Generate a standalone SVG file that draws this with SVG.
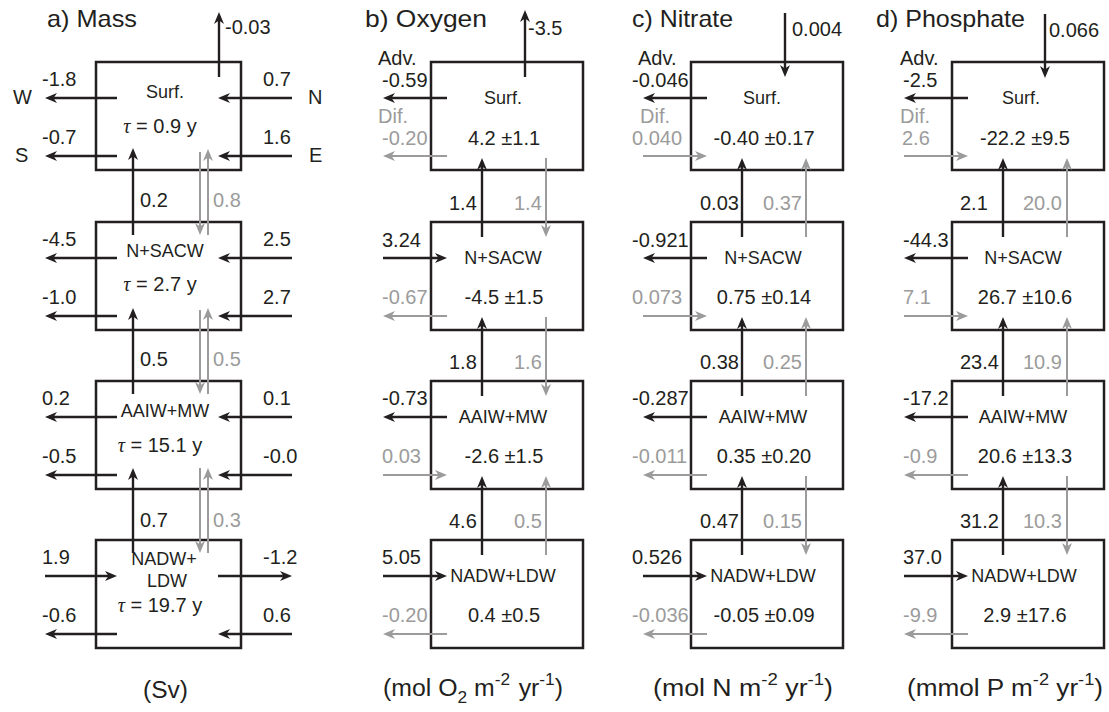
<svg xmlns="http://www.w3.org/2000/svg" width="1109" height="712" viewBox="0 0 1109 712">
<defs>
<style>
text{font-family:"Liberation Sans",Arial,sans-serif;fill:#231f20;font-size:20px}
.g{fill:#9b9b9b}
.t{font-size:24px}
.lb{font-size:18px;text-anchor:middle}
.v{font-size:20px;text-anchor:middle}
.u{font-size:23px}
.box{fill:none;stroke:#231f20;stroke-width:2.5}
.bl{stroke:#231f20;stroke-width:2.4;fill:none;marker-end:url(#ak)}
.gl{stroke:#9b9b9b;stroke-width:2;fill:none;marker-end:url(#ag)}
.tau{font-family:"Liberation Serif",serif;font-style:italic}
</style>
<marker id="ak" markerUnits="userSpaceOnUse" markerWidth="14" markerHeight="12" refX="5" refY="5" orient="auto"><path d="M0,0 L12,5 L0,10 L3.5,5 z" fill="#231f20"/></marker>
<marker id="ag" markerUnits="userSpaceOnUse" markerWidth="14" markerHeight="12" refX="5" refY="5" orient="auto"><path d="M0,0 L12,5 L0,10 L3.5,5 z" fill="#9b9b9b"/></marker>
</defs>
<rect width="1109" height="712" fill="#fff"/>

<!-- titles -->
<g id="titles">
<text class="t" x="47" y="27" textLength="90" lengthAdjust="spacingAndGlyphs">a) Mass</text>
<text class="t" x="365" y="27" textLength="122" lengthAdjust="spacingAndGlyphs">b) Oxygen</text>
<text class="t" x="632" y="27" textLength="101" lengthAdjust="spacingAndGlyphs">c) Nitrate</text>
<text class="t" x="876" y="27" textLength="149" lengthAdjust="spacingAndGlyphs">d) Phosphate</text>
</g>

<!-- Panel a nodes -->
<g id="a-surf"><rect class="box" x="96" y="62" width="145" height="108"/>
<text class="lb" x="165" y="98">Surf.</text>
<text class="v" x="160" y="133"><tspan class="tau">τ</tspan> = 0.9 y</text></g>
<g id="a-nsacw"><rect class="box" x="96" y="222" width="145" height="108"/>
<text class="lb" x="165" y="257">N+SACW</text>
<text class="v" x="160" y="291"><tspan class="tau">τ</tspan> = 2.7 y</text></g>
<g id="a-aaiw"><rect class="box" x="96" y="381" width="145" height="108"/>
<text class="lb" x="165" y="417">AAIW+MW</text>
<text class="v" x="160" y="452"><tspan class="tau">τ</tspan> = 15.1 y</text></g>
<g id="a-nadw"><rect class="box" x="96" y="540" width="145" height="108"/>
<text class="lb" x="164" y="565">NADW+</text>
<text class="lb" x="167" y="587">LDW</text>
<text class="v" x="160" y="612"><tspan class="tau">τ</tspan> = 19.7 y</text></g>

<!-- Panel b nodes -->
<g id="b-surf"><rect class="box" x="431" y="62" width="152" height="108"/>
<text class="lb" x="503" y="104">Surf.</text>
<text class="v" x="504" y="145">4.2 ±1.1</text></g>
<g id="b-nsacw"><rect class="box" x="431" y="222" width="152" height="108"/>
<text class="lb" x="503" y="264">N+SACW</text>
<text class="v" x="504" y="304">-4.5 ±1.5</text></g>
<g id="b-aaiw"><rect class="box" x="431" y="381" width="152" height="108"/>
<text class="lb" x="503" y="423">AAIW+MW</text>
<text class="v" x="504" y="463">-2.6 ±1.5</text></g>
<g id="b-nadw"><rect class="box" x="431" y="540" width="152" height="108"/>
<text class="lb" x="503" y="582">NADW+LDW</text>
<text class="v" x="504" y="622">0.4 ±0.5</text></g>

<!-- Panel c nodes -->
<g id="c-surf"><rect class="box" x="691" y="62" width="152" height="108"/>
<text class="lb" x="762" y="104">Surf.</text>
<text class="v" x="764" y="145">-0.40 ±0.17</text></g>
<g id="c-nsacw"><rect class="box" x="691" y="222" width="152" height="108"/>
<text class="lb" x="763" y="264">N+SACW</text>
<text class="v" x="764" y="304">0.75 ±0.14</text></g>
<g id="c-aaiw"><rect class="box" x="691" y="381" width="152" height="108"/>
<text class="lb" x="763" y="423">AAIW+MW</text>
<text class="v" x="764" y="463">0.35 ±0.20</text></g>
<g id="c-nadw"><rect class="box" x="691" y="540" width="152" height="108"/>
<text class="lb" x="763" y="582">NADW+LDW</text>
<text class="v" x="764" y="622">-0.05 ±0.09</text></g>

<!-- Panel d nodes -->
<g id="d-surf"><rect class="box" x="952" y="62" width="152" height="108"/>
<text class="lb" x="1021" y="104">Surf.</text>
<text class="v" x="1025" y="145">-22.2 ±9.5</text></g>
<g id="d-nsacw"><rect class="box" x="952" y="222" width="152" height="108"/>
<text class="lb" x="1023" y="264">N+SACW</text>
<text class="v" x="1025" y="304">26.7 ±10.6</text></g>
<g id="d-aaiw"><rect class="box" x="952" y="381" width="152" height="108"/>
<text class="lb" x="1023" y="423">AAIW+MW</text>
<text class="v" x="1025" y="463">20.6 ±13.3</text></g>
<g id="d-nadw"><rect class="box" x="952" y="540" width="152" height="108"/>
<text class="lb" x="1024" y="582">NADW+LDW</text>
<text class="v" x="1025" y="622">2.9 ±17.6</text></g>

<!-- connectors -->
<g id="connectors">
<!-- panel a horizontal -->
<line class="bl" x1="117" y1="98" x2="52" y2="98"/>
<line class="bl" x1="117" y1="156" x2="52" y2="156"/>
<line class="bl" x1="117" y1="258" x2="52" y2="258"/>
<line class="bl" x1="117" y1="316" x2="52" y2="316"/>
<line class="bl" x1="117" y1="417" x2="52" y2="417"/>
<line class="bl" x1="117" y1="475" x2="52" y2="475"/>
<line class="bl" x1="45" y1="576" x2="110" y2="576"/>
<line class="bl" x1="117" y1="634" x2="52" y2="634"/>
<line class="bl" x1="292" y1="98" x2="225" y2="98"/>
<line class="bl" x1="292" y1="156" x2="225" y2="156"/>
<line class="bl" x1="292" y1="258" x2="225" y2="258"/>
<line class="bl" x1="292" y1="316" x2="225" y2="316"/>
<line class="bl" x1="292" y1="417" x2="225" y2="417"/>
<line class="bl" x1="292" y1="475" x2="225" y2="475"/>
<line class="bl" x1="218" y1="576" x2="285" y2="576"/>
<line class="bl" x1="292" y1="634" x2="225" y2="634"/>
<!-- panel a vertical -->
<line class="bl" x1="219" y1="77" x2="219" y2="19"/>
<line class="bl" x1="133" y1="235" x2="133" y2="155"/>
<line class="bl" x1="133" y1="394" x2="133" y2="315"/>
<line class="bl" x1="133" y1="553" x2="133" y2="475"/>
<line class="gl" x1="200" y1="152" x2="200" y2="228"/>
<line class="gl" x1="200" y1="310" x2="200" y2="387"/>
<line class="gl" x1="200" y1="468" x2="200" y2="546"/>
<line class="gl" x1="208" y1="235" x2="208" y2="156"/>
<line class="gl" x1="208" y1="394" x2="208" y2="315"/>
<line class="gl" x1="208" y1="553" x2="208" y2="475"/>

<!-- panel b -->
<line class="bl" x1="525" y1="77" x2="525" y2="17"/>
<line class="bl" x1="447" y1="98" x2="390" y2="98"/>
<line class="gl" x1="447" y1="156" x2="390" y2="156"/>
<line class="bl" x1="383" y1="258" x2="440" y2="258"/>
<line class="gl" x1="447" y1="316" x2="390" y2="316"/>
<line class="bl" x1="447" y1="417" x2="390" y2="417"/>
<line class="gl" x1="383" y1="475" x2="440" y2="475"/>
<line class="bl" x1="383" y1="576" x2="440" y2="576"/>
<line class="gl" x1="447" y1="634" x2="390" y2="634"/>
<line class="bl" x1="482" y1="237" x2="482" y2="165"/>
<line class="bl" x1="482" y1="396" x2="482" y2="324"/>
<line class="bl" x1="482" y1="555" x2="482" y2="483"/>
<line class="gl" x1="546" y1="158" x2="546" y2="230"/>
<line class="gl" x1="546" y1="317" x2="546" y2="389"/>
<line class="gl" x1="546" y1="555" x2="546" y2="483"/>

<!-- panel c -->
<line class="bl" x1="785" y1="13" x2="785" y2="70"/>
<line class="bl" x1="707" y1="98" x2="650" y2="98"/>
<line class="gl" x1="643" y1="156" x2="700" y2="156"/>
<line class="bl" x1="707" y1="258" x2="650" y2="258"/>
<line class="gl" x1="643" y1="316" x2="700" y2="316"/>
<line class="bl" x1="707" y1="417" x2="650" y2="417"/>
<line class="gl" x1="707" y1="475" x2="650" y2="475"/>
<line class="bl" x1="643" y1="576" x2="700" y2="576"/>
<line class="gl" x1="707" y1="634" x2="650" y2="634"/>
<line class="bl" x1="742" y1="237" x2="742" y2="165"/>
<line class="bl" x1="742" y1="396" x2="742" y2="324"/>
<line class="bl" x1="742" y1="555" x2="742" y2="483"/>
<line class="gl" x1="806" y1="237" x2="806" y2="165"/>
<line class="gl" x1="806" y1="396" x2="806" y2="324"/>
<line class="gl" x1="806" y1="476" x2="806" y2="548"/>

<!-- panel d -->
<line class="bl" x1="1045" y1="14" x2="1045" y2="71"/>
<line class="bl" x1="968" y1="98" x2="911" y2="98"/>
<line class="gl" x1="904" y1="156" x2="961" y2="156"/>
<line class="bl" x1="968" y1="258" x2="911" y2="258"/>
<line class="gl" x1="904" y1="316" x2="961" y2="316"/>
<line class="bl" x1="968" y1="417" x2="911" y2="417"/>
<line class="gl" x1="968" y1="475" x2="911" y2="475"/>
<line class="bl" x1="904" y1="576" x2="961" y2="576"/>
<line class="gl" x1="968" y1="634" x2="911" y2="634"/>
<line class="bl" x1="1003" y1="237" x2="1003" y2="165"/>
<line class="bl" x1="1003" y1="396" x2="1003" y2="324"/>
<line class="bl" x1="1003" y1="555" x2="1003" y2="483"/>
<line class="gl" x1="1067" y1="237" x2="1067" y2="165"/>
<line class="gl" x1="1067" y1="396" x2="1067" y2="324"/>
<line class="gl" x1="1067" y1="476" x2="1067" y2="548"/>
</g>

<!-- connector labels -->
<g id="labels-a">
<text x="225" y="34">-0.03</text>
<text x="13" y="104">W</text>
<text x="15" y="162">S</text>
<text x="308" y="104">N</text>
<text x="309" y="162">E</text>
<text x="42" y="86">-1.8</text>
<text x="42" y="144">-0.7</text>
<text x="42" y="246">-4.5</text>
<text x="42" y="304">-1.0</text>
<text x="42" y="405">0.2</text>
<text x="42" y="463">-0.5</text>
<text x="42" y="564">1.9</text>
<text x="42" y="622">-0.6</text>
<text x="263" y="86">0.7</text>
<text x="263" y="144">1.6</text>
<text x="263" y="246">2.5</text>
<text x="263" y="304">2.7</text>
<text x="263" y="405">0.1</text>
<text x="263" y="463">-0.0</text>
<text x="263" y="564">-1.2</text>
<text x="263" y="622">0.6</text>
<text x="140" y="207">0.2</text>
<text class="g" x="213" y="207">0.8</text>
<text x="140" y="366">0.5</text>
<text class="g" x="213" y="366">0.5</text>
<text x="140" y="527">0.7</text>
<text class="g" x="213" y="527">0.3</text>
<text class="u" x="143" y="698" textLength="45" lengthAdjust="spacingAndGlyphs">(Sv)</text>
</g>

<g id="labels-b">
<text x="528" y="35">-3.5</text>
<text x="378" y="65">Adv.</text>
<text x="382" y="87">-0.59</text>
<text class="g" x="378" y="123">Dif.</text>
<text class="g" x="382" y="145">-0.20</text>
<text x="382" y="247">3.24</text>
<text class="g" x="382" y="304">-0.67</text>
<text x="382" y="405">-0.73</text>
<text class="g" x="382" y="463">0.03</text>
<text x="382" y="564">5.05</text>
<text class="g" x="382" y="622">-0.20</text>
<text x="449" y="210">1.4</text>
<text class="g" x="514" y="210">1.4</text>
<text x="449" y="369">1.8</text>
<text class="g" x="514" y="369">1.6</text>
<text x="449" y="528">4.6</text>
<text class="g" x="514" y="528">0.5</text>
<text class="u" x="383" y="696" textLength="180" lengthAdjust="spacingAndGlyphs">(mol O<tspan dy="7" font-size="16">2</tspan><tspan dy="-7"> m</tspan><tspan dy="-11" font-size="16">-2</tspan><tspan dy="11" dx="8">yr</tspan><tspan dy="-11" font-size="16">-1</tspan><tspan dy="11">)</tspan></text>
</g>

<g id="labels-c">
<text x="792" y="36">0.004</text>
<text x="638" y="65">Adv.</text>
<text x="632" y="87">-0.046</text>
<text class="g" x="640" y="123">Dif.</text>
<text class="g" x="632" y="145">0.040</text>
<text x="632" y="247">-0.921</text>
<text class="g" x="632" y="304">0.073</text>
<text x="632" y="405">-0.287</text>
<text class="g" x="632" y="463">-0.011</text>
<text x="632" y="564">0.526</text>
<text class="g" x="632" y="622">-0.036</text>
<text x="700" y="210">0.03</text>
<text class="g" x="763" y="210">0.37</text>
<text x="700" y="369">0.38</text>
<text class="g" x="763" y="369">0.25</text>
<text x="700" y="528">0.47</text>
<text class="g" x="763" y="528">0.15</text>
<text class="u" x="653" y="696" textLength="180" lengthAdjust="spacingAndGlyphs">(mol N m<tspan dy="-11" font-size="16">-2</tspan><tspan dy="11"> yr</tspan><tspan dy="-11" font-size="16">-1</tspan><tspan dy="11">)</tspan></text>
</g>

<g id="labels-d">
<text x="1049" y="37">0.066</text>
<text x="900" y="65">Adv.</text>
<text x="903" y="87">-2.5</text>
<text class="g" x="900" y="123">Dif.</text>
<text class="g" x="902" y="145">2.6</text>
<text x="903" y="247">-44.3</text>
<text class="g" x="903" y="304">7.1</text>
<text x="903" y="405">-17.2</text>
<text class="g" x="903" y="463">-0.9</text>
<text x="903" y="564">37.0</text>
<text class="g" x="903" y="622">-9.9</text>
<text x="960" y="210">2.1</text>
<text class="g" x="1023" y="210">20.0</text>
<text x="960" y="369">23.4</text>
<text class="g" x="1023" y="369">10.9</text>
<text x="960" y="528">31.2</text>
<text class="g" x="1023" y="528">10.3</text>
<text class="u" x="907" y="696" textLength="196" lengthAdjust="spacingAndGlyphs">(mmol P m<tspan dy="-11" font-size="16">-2</tspan><tspan dy="11"> yr</tspan><tspan dy="-11" font-size="16">-1</tspan><tspan dy="11">)</tspan></text>
</g>
</svg>
